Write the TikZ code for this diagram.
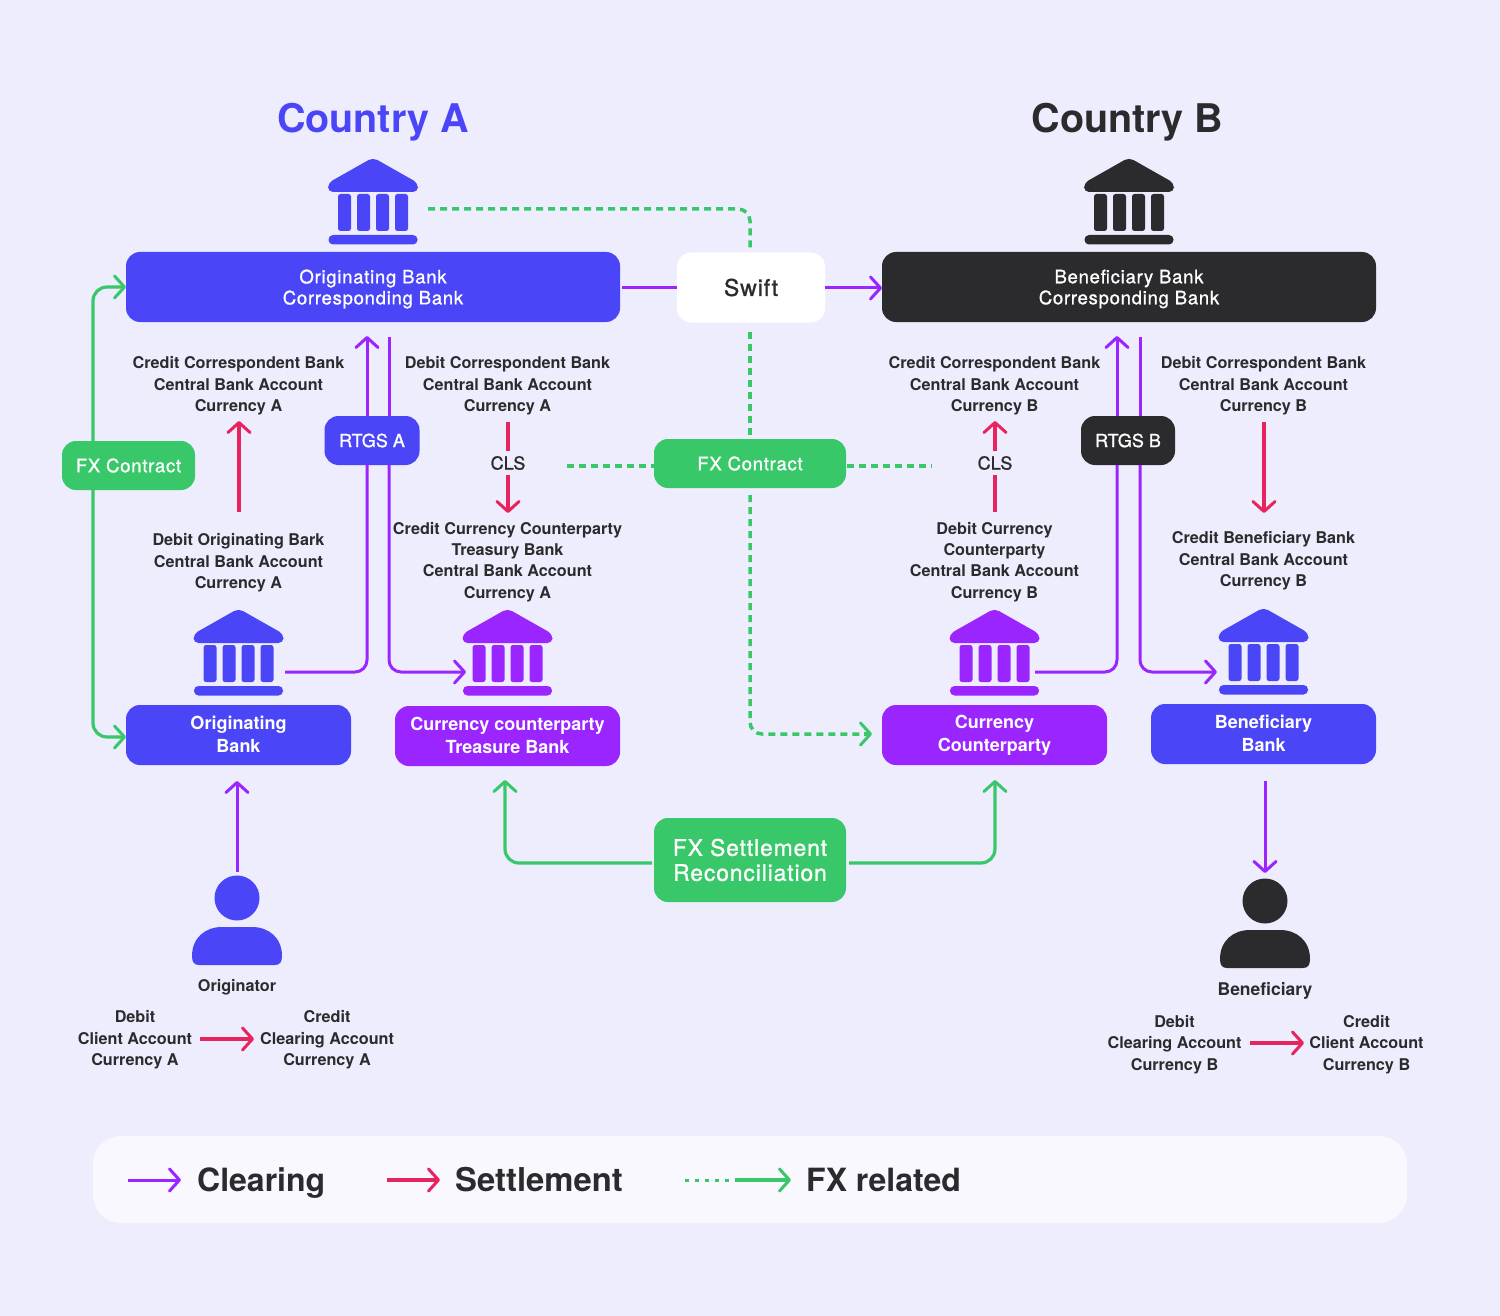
\documentclass[tikz,border=0pt]{standalone}
\usepackage{fontspec}
\setmainfont{TeX Gyre Heros}
\newfontfamily\medf[FakeBold=1.1,LetterSpace=4]{TeX Gyre Heros}
\newfontfamily\medn[FakeBold=1.1]{TeX Gyre Heros}
\usetikzlibrary{arrows.meta}
\definecolor{bgc}{HTML}{EDEDFE}
\definecolor{legc}{HTML}{F8F8FE}
\definecolor{bluec}{HTML}{4A46F8}
\definecolor{purc}{HTML}{9B25FF}
\definecolor{darkc}{HTML}{2B2B2D}
\definecolor{grnc}{HTML}{38C869}
\definecolor{redc}{HTML}{E8245F}
\tikzset{
 x=1pt,y=-1pt,
 boxn/.style={rounded corners=14pt,inner sep=0pt,align=center,text=white,font=\fontsize{18.5}{21}\selectfont\medf},
 boxb/.style={rounded corners=14pt,inner sep=0pt,minimum width=225pt,minimum height=60pt},
 boxbt/.style={inner sep=0pt,align=center,text=white,yshift=1pt,font=\fontsize{18}{23}\selectfont\bfseries},
 boxwt/.style={inner sep=0pt,align=center,text=white,yshift=-2pt,font=\fontsize{18.5}{21}\selectfont\medf},
 lbl/.style={inner sep=0pt,align=center,text=darkc,font=\fontsize{16.2}{21.3}\selectfont\bfseries},
 tip/.style={-{Straight Barb[length=10pt,width=22pt,round,line width=3pt]}},
 clr/.style={draw=purc,line width=3pt,rounded corners=12pt},
 stl/.style={draw=redc,line width=3.2pt,rounded corners=12pt},
 fxs/.style={draw=grnc,line width=3.2pt,rounded corners=14pt},
 fxd/.style={draw=grnc,line width=3.5pt,rounded corners=12pt,dash pattern=on 7pt off 5pt},
 ttl/.style={inner sep=0pt,font=\fontsize{39.5}{40}\selectfont\bfseries},
 legt/.style={inner sep=0pt,anchor=base west,text=darkc,font=\fontsize{32}{34}\selectfont\bfseries},
}
\newcommand{\bankicon}[4]{%
 \node[minimum width=89pt,minimum height=85pt,inner sep=0pt] (#1) at (#2,#3+42.5) {};
 \begin{scope}[shift={(#2,#3)},fill=#4]
 \fill[rounded corners=5pt] (0,-1.5) -- (45,24) -- (45,33) -- (-45,33) -- (-45,24) -- cycle;
 \foreach \cx in {-28.5,-9.5,9.5,28.5}
  \fill[rounded corners=2.5pt] (\cx-6.5,35) rectangle (\cx+6.5,72);
 \fill[rounded corners=4.5pt] (-44.5,76) rectangle (44.5,85.5);
 \end{scope}}
\newcommand{\person}[4]{%
 \node[minimum width=90pt,minimum height=90pt,inner sep=0pt] (#1) at (#2,#3+44.5) {};
 \begin{scope}[shift={(#2,#3)}]
 \fill[#4] (0,22) circle (22.5);
 \fill[#4] (-45,82) -- (-45,80) .. controls (-45,62) and (-32,51) .. (-15,51) -- (15,51) .. controls (32,51) and (45,62) .. (45,80) .. controls (45,86) and (43,89) .. (38,89) -- (-38,89) .. controls (-43,89) and (-45,86) .. (-45,80) -- cycle;
 \end{scope}}
\begin{document}
\begin{tikzpicture}
\fill[bgc] (0,0) rectangle (1500,1316);
\useasboundingbox (0,0) rectangle (1500,1316);
% legend
\node[fill=legc,rounded corners=28pt,minimum width=1314pt,minimum height=87pt,inner sep=0pt] (legend) at (750,1179.5) {};
% titles
\node[ttl,text=bluec] (ca) at (373,122) {Country A};
\node[ttl,text=darkc] (cb) at (1127.5,122) {Country B};
% icons
\bankicon{bka}{373}{159}{bluec}
\bankicon{bkb}{1129}{159}{darkc}
\bankicon{bko}{238.5}{610}{bluec}
\bankicon{bkt}{507.5}{610}{purc}
\bankicon{bkc}{994.5}{610}{purc}
\bankicon{bkn}{1263.5}{609}{bluec}
\person{pa}{237}{876}{bluec}
\person{pb}{1265}{879}{darkc}
% boxes
\node[boxn,fill=bluec,minimum width=494pt,minimum height=70pt,label={[boxwt]center:{Originating Bank\\Corresponding Bank}}] (obcb) at (373,287) {};
\node[boxn,fill=white,text=darkc,minimum width=148pt,minimum height=70pt,font=\fontsize{23}{25}\selectfont\medf] (swift) at (751,287.5) {Swift};
\node[boxn,fill=darkc,minimum width=494pt,minimum height=70pt,label={[boxwt]center:{Beneficiary Bank\\Corresponding Bank}}] (bbcb) at (1129,287) {};
\node[boxn,fill=grnc,minimum width=133pt,minimum height=49pt] (fxl) at (128.5,465.5) {FX Contract};
\node[boxn,fill=bluec,minimum width=95pt,minimum height=49pt,font=\fontsize{18}{21}\selectfont\medn] (rtgsa) at (372,440.5) {RTGS A};
\node[boxn,fill=darkc,minimum width=94pt,minimum height=49pt,font=\fontsize{18}{21}\selectfont\medn] (rtgsb) at (1128,440.5) {RTGS B};
\node[boxn,fill=grnc,minimum width=192pt,minimum height=49pt] (fxc) at (750,463.5) {FX Contract};
\node[boxb,fill=bluec,label={[boxbt]center:{Originating\\Bank}}] (ob) at (238.5,735) {};
\node[boxb,fill=purc,label={[boxbt]center:{Currency counterparty\\Treasure Bank}}] (ct) at (507.5,736) {};
\node[boxb,fill=purc,label={[boxbt]center:{\strut Currency\\Counterparty}}] (cc) at (994.5,735) {};
\node[boxb,fill=bluec,label={[boxbt]center:{Beneficiary\\Bank}}] (bb) at (1263.5,734) {};
\node[boxn,fill=grnc,minimum width=192pt,minimum height=84pt,font=\fontsize{22.8}{25}\selectfont\medf] (fxr) at (750,860) {FX Settlement\\Reconciliation};
% labels
\node[lbl] (l1) at (238.5,386) {Credit Correspondent Bank\\Central Bank Account\\Currency A};
\node[lbl] (l2) at (507.5,386) {Debit Correspondent Bank\\Central Bank Account\\Currency A};
\node[lbl] (l3) at (238.5,563) {Debit Originating Bark\\Central Bank Account\\Currency A};
\node[lbl] (l4) at (507.5,562) {Credit Currency Counterparty\\Treasury Bank\\Central Bank Account\\Currency A};
\node[lbl] (l5) at (994.5,386) {Credit Correspondent Bank\\Central Bank Account\\Currency B};
\node[lbl] (l6) at (1263.5,386) {Debit Correspondent Bank\\Central Bank Account\\Currency B};
\node[lbl] (l7) at (994.5,562) {Debit Currency\\Counterparty\\Central Bank Account\\Currency B};
\node[lbl] (l8) at (1263.5,561) {Credit Beneficiary Bank\\Central Bank Account\\Currency B};
\node[lbl,font=\fontsize{18}{21}\selectfont\medn] (clsa) at (508,463) {CLS};
\node[lbl,font=\fontsize{18}{21}\selectfont\medn] (clsb) at (995,463) {CLS};
\node[lbl] (orig) at (237,987) {Originator};
\node[lbl,font=\fontsize{17.5}{21}\selectfont\bfseries] (bene) at (1265,991) {Beneficiary};
\node[lbl] (d1) at (135,1040) {Debit\\Client Account\\Currency A};
\node[lbl] (c1) at (327,1040) {Credit\\Clearing Account\\Currency A};
\node[lbl] (d2) at (1174.5,1044.5) {Debit\\Clearing Account\\Currency B};
\node[lbl] (c2) at (1366.5,1044.5) {Credit\\Client Account\\Currency B};
% free ends
\coordinate (a1) at (622,288);
\coordinate (a2) at (677,288);
\coordinate (a3) at (825,288);
\coordinate (a4) at (882,288);
% clearing
\draw[clr] (a1) -- (a2);
\draw[clr,tip] (a3) -- (a4);
\coordinate (oo) at (285,672);\coordinate (oa) at (367,465);\coordinate (ob1) at (367,416);\coordinate (ob2) at (367,336);
\draw[clr] (oo) -- (367,672) -- (oa);
\draw[clr,tip] (ob1) -- (ob2);
\coordinate (da) at (389,337);\coordinate (db) at (389,416);\coordinate (dc) at (389,465);\coordinate (dd) at (466,672);
\draw[clr] (da) -- (db);
\draw[clr,tip] (dc) -- (389,672) -- (dd);
\coordinate (eo) at (1035,672);\coordinate (ea) at (1117,465);\coordinate (eb1) at (1117,416);\coordinate (eb2) at (1117,336);
\draw[clr] (eo) -- (1117,672) -- (ea);
\draw[clr,tip] (eb1) -- (eb2);
\coordinate (fa) at (1140,337);\coordinate (fb) at (1140,416);\coordinate (fc) at (1140,465);\coordinate (fd) at (1217,672);
\draw[clr] (fa) -- (fb);
\draw[clr,tip] (fc) -- (1140,672) -- (fd);
\coordinate (p1) at (237,872);\coordinate (p2) at (237,781);
\draw[clr,tip] (p1) -- (p2);
\coordinate (q1) at (1265,781);\coordinate (q2) at (1265,873);
\draw[clr,tip] (q1) -- (q2);
% settlement
\coordinate (s1) at (239,512);\coordinate (s2) at (239,421);
\draw[stl,tip] (s1) -- (s2);
\coordinate (s3) at (508,422);\coordinate (s4) at (508,451);\coordinate (s5) at (508,475);\coordinate (s6) at (508,513);
\draw[stl] (s3) -- (s4);
\draw[stl,tip] (s5) -- (s6);
\coordinate (s7) at (995,512);\coordinate (s8) at (995,475);\coordinate (s9) at (995,451);\coordinate (s10) at (995,421);
\draw[stl] (s7) -- (s8);
\draw[stl,tip] (s9) -- (s10);
\coordinate (s11) at (1264,422);\coordinate (s12) at (1264,513);
\draw[stl,tip] (s11) -- (s12);
\coordinate (s13) at (200,1039);\coordinate (s14) at (254,1039);
\draw[stl,tip] (s13) -- (s14);
\coordinate (s15) at (1250,1043);\coordinate (s16) at (1304,1043);
\draw[stl,tip] (s15) -- (s16);
% FX solid
\coordinate (g1) at (93,441);\coordinate (g2) at (126,287);\coordinate (g3) at (93,490);\coordinate (g4) at (126,737);
\draw[fxs,tip] (g1) -- (93,287) -- (g2);
\draw[fxs,tip] (g3) -- (93,737) -- (g4);
\coordinate (g5) at (652,863);\coordinate (g6) at (505,780);\coordinate (g7) at (849,863);\coordinate (g8) at (995,780);
\draw[fxs,tip] (g5) -- (505,863) -- (g6);
\draw[fxs,tip] (g7) -- (995,863) -- (g8);
% FX dashed
\coordinate (h1) at (428,209);\coordinate (h2) at (750,252);
\draw[fxd] (h1) -- (750,209) -- (h2);
\coordinate (h3) at (750,332);\coordinate (h4) at (750,439);
\draw[fxd] (h3) -- (h4);
\coordinate (h5) at (567,466);\coordinate (h6) at (654,466);
\draw[fxd] (h5) -- (h6);
\coordinate (h7) at (847,466);\coordinate (h8) at (932,466);
\draw[fxd] (h7) -- (h8);
\coordinate (h9) at (750,495);\coordinate (h10) at (872,734);
\draw[fxd] (h9) -- (750,734) -- (868,734);
\draw[fxs,tip,dash pattern=on 4pt off 50pt] (864,734) -- (h10);
% legend
\coordinate (k1) at (128,1180);\coordinate (k2) at (181,1180);
\draw[clr,tip] (k1) -- (k2);
\node[legt] (kt1) at (197,1191) {Clearing};
\coordinate (k3) at (387,1180);\coordinate (k4) at (440,1180);
\draw[stl,tip] (k3) -- (k4);
\node[legt,font=\fontsize{32.8}{34}\selectfont\bfseries] (kt2) at (455,1191) {Settlement};
\coordinate (k5) at (685,1180);\coordinate (k6) at (730,1180);\coordinate (k7) at (735,1180);\coordinate (k8) at (791,1180);
\draw[fxs,line width=3pt,dash pattern=on 4pt off 6pt] (k5) -- (k6);
\draw[fxs,tip] (k7) -- (k8);
\node[legt] (kt3) at (806,1191) {FX related};
\end{tikzpicture}
\end{document}
